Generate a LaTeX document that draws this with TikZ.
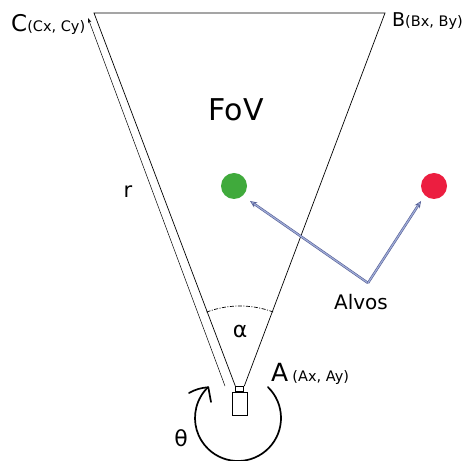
\documentclass[tikz,border=0pt]{standalone}
\usepackage{fontspec}
\setmainfont{DejaVu Sans}
\usetikzlibrary{arrows.meta}
\newcommand{\fsz}[1]{\fontsize{#1}{#1}\selectfont}
\definecolor{ptrdark}{RGB}{85,95,150}
\definecolor{ptrlight}{RGB}{160,172,215}
\begin{document}
\begin{tikzpicture}[x=1pt,y=1pt,
  thin line/.style={line width=0.7pt, black},
  target/.style={circle, minimum size=26pt, inner sep=0pt},
  pointer/.style={draw=ptrdark, double=ptrlight, line width=0.6pt, double distance=1.2pt,
    -{Stealth[length=7pt,width=6pt,fill=ptrlight]}},
  rotline/.style={line width=1.7pt, line cap=round, line join=round},
  lbl/.style={inner sep=0pt}
]
\useasboundingbox (0,0) rectangle (465,460);
% camera
\node[draw, line width=0.9pt, minimum width=15pt, minimum height=23pt, inner sep=0pt] (cam) at (239.8,56.5) {};
\node[draw, line width=0.9pt, minimum width=8pt, minimum height=4.5pt, inner sep=0pt, anchor=south] (lens) at (cam.north) {};
% FoV triangle
\coordinate (C) at (94,447);
\coordinate (B) at (385,447);
\draw[thin line] (lens.north west) -- (C) -- (B) -- (lens.north east);
% radius arrow
\coordinate (r0) at (225,74);
\coordinate (r1) at (88,442);
\draw[line width=0.5pt, -{Stealth[length=5pt,width=3.5pt]}] (r0) -- (r1);
\node[lbl, font=\fsz{21}] (rlab) at (128,268) {r};
% alpha arc
\coordinate (apex) at (240,59);
\draw[line width=0.7pt, dash pattern=on 4pt off 1.5pt on 1pt off 1.5pt]
  (apex) ++(110.6:95) arc[start angle=110.6, end angle=69.4, radius=95];
\node[lbl, font=\fsz{22}] (alpha) at (240,129) {α};
% theta arc
\coordinate (rot) at (238,42);
\coordinate (ttip) at (208.3,72.7);
\coordinate (tbarbL) at (189,67);
\coordinate (tbarbR) at (211,58);
\draw[rotline] (rot) ++(46:43) arc[start angle=46, end angle=-226, radius=43];
\draw[rotline] (tbarbL) to[bend left=12] (ttip) -- (tbarbR);
\node[lbl, font=\fsz{22}] (theta) at (181,22) {θ};
% labels
\node[lbl, anchor=base west] (Clab) at (11,428) {\fsz{23}C\fsz{14.5}(Cx, Cy)};
\node[lbl, anchor=base west] (Blab) at (392,433) {\fsz{19}B\fsz{14.5}(Bx, By)};
\node[lbl, anchor=base west] (Alab) at (271,78) {\fsz{25}A\,\fsz{14.5}(Ax, Ay)};
\node[lbl, font=\fsz{30}] (fov) at (236,350) {FoV};
% targets
\node[target, fill={rgb,255:red,64;green,170;blue,60}] (green) at (234,274) {};
\node[target, fill={rgb,255:red,236;green,30;blue,64}] (red) at (434,274) {};
\coordinate (src) at (368,177);
\coordinate (gtip) at (250,259);
\coordinate (rtip) at (421,259);
\draw[pointer] (src) -- (gtip);
\draw[pointer] (src) -- (rtip);
\node[lbl, font=\fsz{20}] (alvos) at (361,158) {Alvos};
\end{tikzpicture}
\end{document}
